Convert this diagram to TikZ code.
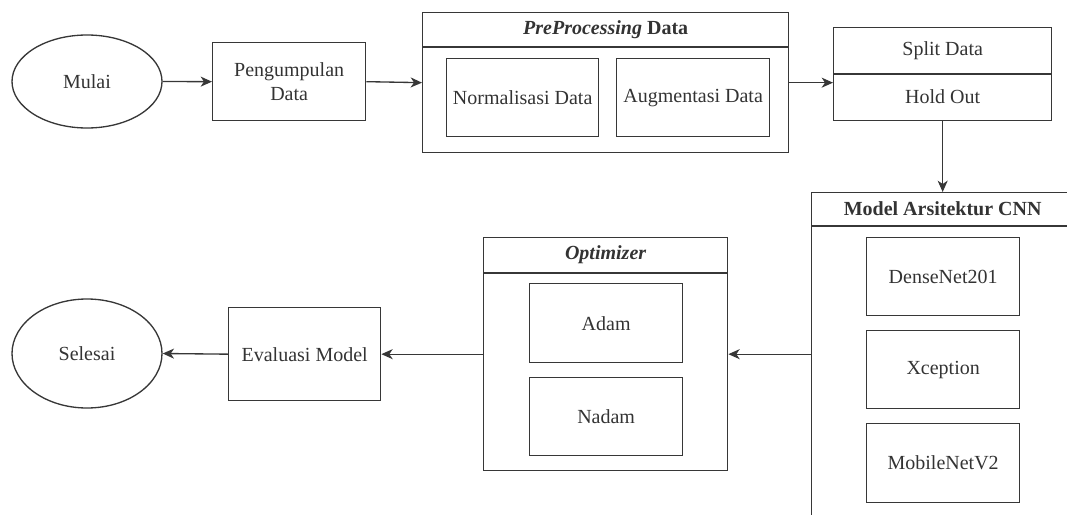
\documentclass[tikz,border=0pt]{standalone}
\usepackage{fontspec}
\setmainfont{Liberation Serif}
\usetikzlibrary{shapes.geometric,arrows.meta,calc}
\definecolor{ln}{RGB}{55,55,55}
\definecolor{tx}{RGB}{51,51,51}
\begin{document}
\begin{tikzpicture}[x=0.75pt,y=-0.75pt,
  every node/.style={text=tx, font=\fontsize{15}{17.5}\selectfont},
  sz/.style 2 args={minimum width=#1*0.75pt, minimum height=#2*0.75pt},
  box/.style={draw=ln, line width=1pt, inner sep=0pt, align=center, anchor=north west},
  oval/.style={draw=ln, line width=1pt, ellipse, inner sep=0pt},
  hdr/.style={font=\fontsize{15}{17.5}\selectfont\bfseries},
  lnst/.style={draw=ln, line width=1pt},
  arr/.style={draw=ln, line width=1pt, -{Stealth[length=8.5pt,width=7.5pt,inset=2.5pt]}}]
\useasboundingbox (0,0) rectangle (1067,514);
\clip (0,0) rectangle (1067,514);
% top row
\node[oval, sz={150}{93}] (mulai) at (87,81.5) {Mulai};
\node[box, sz={153}{78}] (peng) at (212,42) {Pengumpulan\\Data};
\node[box, sz={366}{140}] (pre) at (422,12) {};
\draw[lnst] ($(pre.north west)+(0,35)$) -- ($(pre.north east)+(0,35)$);
\node[hdr] (preh) at ($(pre.north)+(0,17.5)$) {\textit{PreProcessing} Data};
\node[box, sz={152}{78}] (norm) at (446,58) {Normalisasi Data};
\node[box, sz={153}{78}] (aug) at (616,58) {Augmentasi Data};
\node[box, sz={218}{93}] (split) at (833,27) {};
\draw[lnst] ($(split.north west)+(0,47)$) -- ($(split.north east)+(0,47)$);
\node (splt) at ($(split.north)+(0,23.5)$) {Split Data};
\node (hold) at ($(split.north)+(0,70)$) {Hold Out};
% model container
\node[box, sz={262}{370}] (model) at (811,192) {};
\draw[lnst] ($(model.north west)+(0,34)$) -- ($(model.north east)+(0,34)$);
\node[hdr] (modelh) at ($(model.north)+(0,17)$) {Model Arsitektur CNN};
\node[box, sz={153}{78}] (dense) at (866,237) {DenseNet201};
\node[box, sz={153}{78}] (xcep) at (866,330) {Xception};
\node[box, sz={153}{79}] (mob) at (866,423) {MobileNetV2};
% optimizer
\node[box, sz={244}{233}] (opt) at (483,237) {};
\draw[lnst] ($(opt.north west)+(0,36)$) -- ($(opt.north east)+(0,36)$);
\node[hdr] (opth) at ($(opt.north)+(0,18)$) {\textit{Optimizer}};
\node[box, sz={153}{79}] (adam) at (529,283) {Adam};
\node[box, sz={153}{78}] (nadam) at (529,377) {Nadam};
% bottom row
\node[box, sz={152}{93}] (eval) at (228,307) {Evaluasi Model};
\node[oval, sz={150}{109}] (sel) at (87,353.5) {Selesai};
% connectors
\draw[arr] (mulai.east) -- (peng.west);
\draw[arr] (peng.east) -- (pre.west);
\draw[arr] (pre.east) -- (pre.east -| split.west);
\draw[arr] (split.south) -- (split.south |- model.north);
\draw[arr] (model.west |- opt.east) -- (opt.east);
\draw[arr] (opt.west) -- (eval.east);
\draw[arr] (eval.west) -- (sel.east);
\end{tikzpicture}
\end{document}
